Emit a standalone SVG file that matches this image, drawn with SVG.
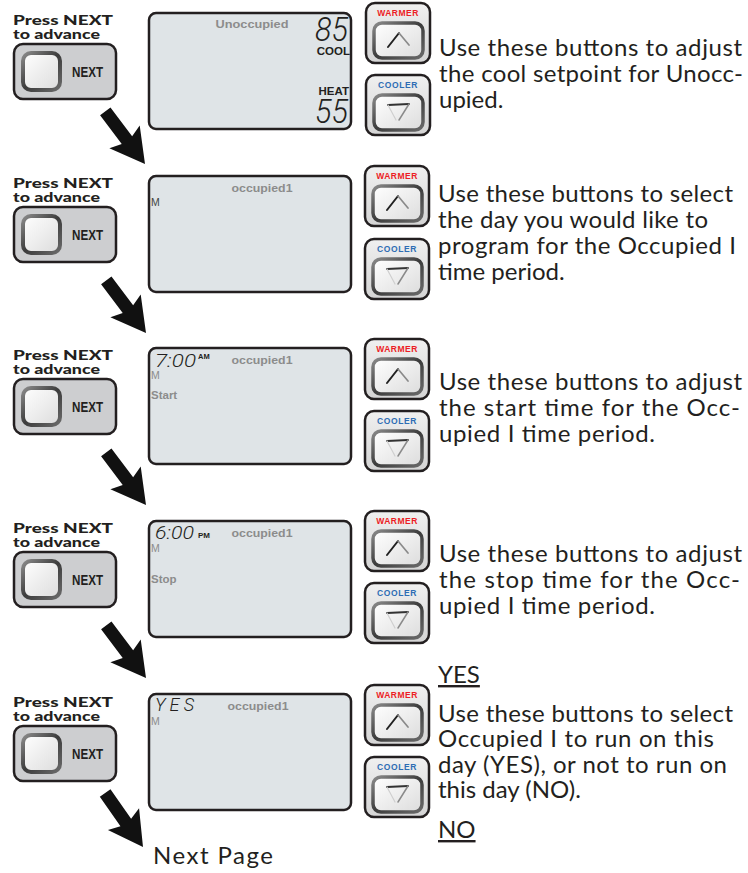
<svg xmlns="http://www.w3.org/2000/svg" xmlns:xlink="http://www.w3.org/1999/xlink" width="748" height="873" viewBox="0 0 748 873">
<defs>
<style>
.lcd{fill:#dfe4e7;stroke:#231f20;stroke-width:2.5}
.nbox{fill:#cdced0;stroke:#231f20;stroke-width:2.5}
.body{font-family:Lato,"Open Sans",sans-serif;font-size:24px;fill:#231f20}
.press{font-family:Lato,"Liberation Sans",sans-serif;font-weight:900;font-size:14px;fill:#231f20}
.nxt{font-family:"Liberation Sans",Arial,sans-serif;font-weight:bold;font-size:14px;fill:#231f20}
.lbl{font-family:"Liberation Sans",Arial,sans-serif;font-weight:bold;font-size:11.5px;fill:#8c8c8c}
.lblc{text-anchor:middle}
.m{font-family:"Liberation Sans",Arial,sans-serif;font-size:10.5px;fill:#8c8c8c}
.seg{font-family:Roboto,"DejaVu Sans",sans-serif;font-weight:300;font-style:italic;fill:#231f20}
.small{font-family:"Liberation Sans",Arial,sans-serif;font-weight:bold;fill:#231f20}
.unit{font-family:"Liberation Sans",Arial,sans-serif;font-weight:bold;font-size:11.5px;fill:#231f20;text-anchor:end}
.wl{font-family:"Liberation Sans",Arial,sans-serif;font-weight:bold;font-size:8.5px;fill:#ed1c24;text-anchor:middle;letter-spacing:0.5px}
.cl{font-family:"Liberation Sans",Arial,sans-serif;font-weight:bold;font-size:8.5px;fill:#2e6db4;text-anchor:middle;letter-spacing:0.6px}
.arrow{fill:#111}
</style>
<linearGradient id="outerG" x1="0" y1="0" x2="0" y2="1">
<stop offset="0" stop-color="#f0f0f0"/><stop offset="1" stop-color="#d4d4d4"/>
</linearGradient>
<linearGradient id="innerG" x1="0" y1="0" x2="1" y2="1">
<stop offset="0" stop-color="#ffffff"/><stop offset="1" stop-color="#dcdcdc"/>
</linearGradient>
<linearGradient id="edgeG" x1="0" y1="0" x2="1" y2="1">
<stop offset="0" stop-color="#8a8a8a"/><stop offset="0.5" stop-color="#3c3c3c"/><stop offset="1" stop-color="#6a6a6a"/>
</linearGradient>
<g id="warmerShape">
<rect x="0" y="0" width="64" height="60" rx="9" fill="url(#outerG)" stroke="#231f20" stroke-width="2.5"/>
<rect x="8" y="20" width="49" height="35" rx="8" fill="url(#innerG)" stroke="url(#edgeG)" stroke-width="3.5"/>
<path d="M22,44 L33,30" fill="none" stroke="#222" stroke-width="2" stroke-linecap="round"/>
<path d="M33,30 L43,42" fill="none" stroke="#8a8a8a" stroke-width="1.7" stroke-linecap="round"/>
</g>
<g id="coolerShape">
<rect x="0" y="0" width="64" height="60" rx="9" fill="url(#outerG)" stroke="#231f20" stroke-width="2.5"/>
<rect x="8" y="20" width="49" height="35" rx="8" fill="url(#innerG)" stroke="url(#edgeG)" stroke-width="3.5"/>
<path d="M22,30 L43,29" fill="none" stroke="#333" stroke-width="2" stroke-linecap="round"/>
<path d="M43,29 L33,45" fill="none" stroke="#8a8a8a" stroke-width="1.5" stroke-linecap="round"/>
<path d="M22,30 L30,45" fill="none" stroke="#cfcfcf" stroke-width="1.2" stroke-linecap="round"/>
</g>
<g id="nextShape">
<rect x="0" y="0" width="102" height="55" rx="9" class="nbox"/>
<rect x="9" y="9" width="37" height="37" rx="8" fill="url(#innerG)" stroke="url(#edgeG)" stroke-width="4"/>
</g>
<path id="arr" d="M0,0 L-34,-19 L-30,-6.5 L-66,-6.5 L-66,6.5 L-30,6.5 L-34,19 Z"/>
</defs>
<rect width="748" height="873" fill="#ffffff"/>

<!-- Row 1 -->
<g id="next1">
<text class="press" x="13" y="25" textLength="100" lengthAdjust="spacingAndGlyphs">Press NEXT</text>
<text class="press" x="13" y="39" textLength="87" lengthAdjust="spacingAndGlyphs">to advance</text>
<use xlink:href="#nextShape" x="14" y="44"/>
<text class="nxt" x="72" y="77" textLength="31" lengthAdjust="spacingAndGlyphs">NEXT</text>
</g>
<g id="lcd1">
<rect x="149" y="13" width="202" height="116" rx="7" class="lcd"/>
<text class="lbl lblc" x="252" y="28" textLength="73" lengthAdjust="spacingAndGlyphs">Unoccupied</text>
<text class="seg" x="315" y="41" font-size="34" textLength="33" lengthAdjust="spacingAndGlyphs">85</text>
<text class="unit" x="350" y="55">COOL</text>
<text class="unit" x="349" y="95">HEAT</text>
<text class="seg" x="315" y="123" font-size="34" textLength="33" lengthAdjust="spacingAndGlyphs">55</text>
</g>
<g id="warmer1"><use xlink:href="#warmerShape" x="366" y="3"/><text class="wl" x="398" y="16">WARMER</text></g>
<g id="cooler1"><use xlink:href="#coolerShape" x="366" y="75"/><text class="cl" x="398" y="88">COOLER</text></g>
<g id="desc1">
<text class="body" x="439" y="56" textLength="303">Use these buttons to adjust</text>
<text class="body" x="439" y="82" textLength="304">the cool setpoint for Unocc-</text>
<text class="body" x="439" y="108">upied.</text>
</g>

<!-- Row 2 -->
<g id="next2">
<text class="press" x="13" y="188" textLength="100" lengthAdjust="spacingAndGlyphs">Press NEXT</text>
<text class="press" x="13" y="202" textLength="87" lengthAdjust="spacingAndGlyphs">to advance</text>
<use xlink:href="#nextShape" x="14" y="207"/>
<text class="nxt" x="72" y="240" textLength="31" lengthAdjust="spacingAndGlyphs">NEXT</text>
</g>
<g id="lcd2">
<rect x="149" y="176" width="202" height="116" rx="7" class="lcd"/>
<text class="lbl lblc" x="262" y="192" textLength="61" lengthAdjust="spacingAndGlyphs">occupied1</text>
<text class="m" x="151" y="206" style="fill:#444">M</text>
</g>
<g id="warmer2"><use xlink:href="#warmerShape" x="365" y="166"/><text class="wl" x="397" y="179">WARMER</text></g>
<g id="cooler2"><use xlink:href="#coolerShape" x="365" y="239"/><text class="cl" x="397" y="252">COOLER</text></g>
<g id="desc2">
<text class="body" x="438" y="202" textLength="295">Use these buttons to select</text>
<text class="body" x="438" y="228" textLength="270">the day you would like to</text>
<text class="body" x="438" y="254" textLength="298">program for the Occupied I</text>
<text class="body" x="438" y="280">time period.</text>
</g>

<!-- Row 3 -->
<g id="next3">
<text class="press" x="13" y="360" textLength="100" lengthAdjust="spacingAndGlyphs">Press NEXT</text>
<text class="press" x="13" y="374" textLength="87" lengthAdjust="spacingAndGlyphs">to advance</text>
<use xlink:href="#nextShape" x="14" y="379"/>
<text class="nxt" x="72" y="412" textLength="31" lengthAdjust="spacingAndGlyphs">NEXT</text>
</g>
<g id="lcd3">
<rect x="149" y="348" width="202" height="116" rx="7" class="lcd"/>
<text class="seg" x="155" y="367" font-size="19" textLength="41" lengthAdjust="spacingAndGlyphs">7:00</text>
<text class="small" x="198" y="359" font-size="7.5">AM</text>
<text class="lbl lblc" x="262" y="364" textLength="61" lengthAdjust="spacingAndGlyphs">occupied1</text>
<text class="m" x="151" y="379">M</text>
<text class="lbl" x="151" y="399">Start</text>
</g>
<g id="warmer3"><use xlink:href="#warmerShape" x="365" y="339"/><text class="wl" x="397" y="352">WARMER</text></g>
<g id="cooler3"><use xlink:href="#coolerShape" x="365" y="411"/><text class="cl" x="397" y="424">COOLER</text></g>
<g id="desc3">
<text class="body" x="439" y="390" textLength="303">Use these buttons to adjust</text>
<text class="body" x="439" y="416" textLength="301">the start time for the Occ-</text>
<text class="body" x="439" y="442" textLength="216">upied I time period.</text>
</g>

<!-- Row 4 -->
<g id="next4">
<text class="press" x="13" y="533" textLength="100" lengthAdjust="spacingAndGlyphs">Press NEXT</text>
<text class="press" x="13" y="547" textLength="87" lengthAdjust="spacingAndGlyphs">to advance</text>
<use xlink:href="#nextShape" x="14" y="552"/>
<text class="nxt" x="72" y="585" textLength="31" lengthAdjust="spacingAndGlyphs">NEXT</text>
</g>
<g id="lcd4">
<rect x="149" y="521" width="202" height="116" rx="7" class="lcd"/>
<text class="seg" x="155" y="539" font-size="18" textLength="39" lengthAdjust="spacingAndGlyphs">6:00</text>
<text class="small" x="198" y="538" font-size="8">PM</text>
<text class="lbl lblc" x="262" y="537" textLength="61" lengthAdjust="spacingAndGlyphs">occupied1</text>
<text class="m" x="151" y="552">M</text>
<text class="lbl" x="151" y="583">Stop</text>
</g>
<g id="warmer4"><use xlink:href="#warmerShape" x="365" y="511"/><text class="wl" x="397" y="524">WARMER</text></g>
<g id="cooler4"><use xlink:href="#coolerShape" x="365" y="583"/><text class="cl" x="397" y="596">COOLER</text></g>
<g id="desc4">
<text class="body" x="439" y="562" textLength="303">Use these buttons to adjust</text>
<text class="body" x="439" y="588" textLength="301">the stop time for the Occ-</text>
<text class="body" x="439" y="614" textLength="216">upied I time period.</text>
</g>

<!-- Row 5 -->
<g id="next5">
<text class="press" x="13" y="707" textLength="100" lengthAdjust="spacingAndGlyphs">Press NEXT</text>
<text class="press" x="13" y="721" textLength="87" lengthAdjust="spacingAndGlyphs">to advance</text>
<use xlink:href="#nextShape" x="14" y="726"/>
<text class="nxt" x="72" y="759" textLength="31" lengthAdjust="spacingAndGlyphs">NEXT</text>
</g>
<g id="lcd5">
<rect x="149" y="694" width="202" height="116" rx="7" class="lcd"/>
<text class="seg" x="155" y="711" font-size="18" textLength="39" lengthAdjust="spacing">YES</text>
<text class="lbl lblc" x="258" y="710" textLength="61" lengthAdjust="spacingAndGlyphs">occupied1</text>
<text class="m" x="151" y="725">M</text>
</g>
<g id="warmer5"><use xlink:href="#warmerShape" x="365" y="685"/><text class="wl" x="397" y="698">WARMER</text></g>
<g id="cooler5"><use xlink:href="#coolerShape" x="365" y="757"/><text class="cl" x="397" y="770">COOLER</text></g>
<g id="desc5">
<text class="body" x="438" y="683" text-decoration="underline">YES</text>
<text class="body" x="438" y="722" textLength="295">Use these buttons to select</text>
<text class="body" x="438" y="747" textLength="276">Occupied I to run on this</text>
<text class="body" x="438" y="773" textLength="289">day (YES), or not to run on</text>
<text class="body" x="438" y="798">this day (NO).</text>
<text class="body" x="438" y="838" text-decoration="underline">NO</text>
</g>

<g id="nextpage">
<text class="body" x="153" y="864" textLength="120">Next Page</text>
</g>

<g id="connectors" class="arrow">
<use xlink:href="#arr" transform="translate(145,164) rotate(53)"/>
<use xlink:href="#arr" transform="translate(146,333) rotate(53)"/>
<use xlink:href="#arr" transform="translate(146,505) rotate(53)"/>
<use xlink:href="#arr" transform="translate(146,678) rotate(53)"/>
<use xlink:href="#arr" transform="translate(143,847) rotate(55)"/>
</g>
</svg>
